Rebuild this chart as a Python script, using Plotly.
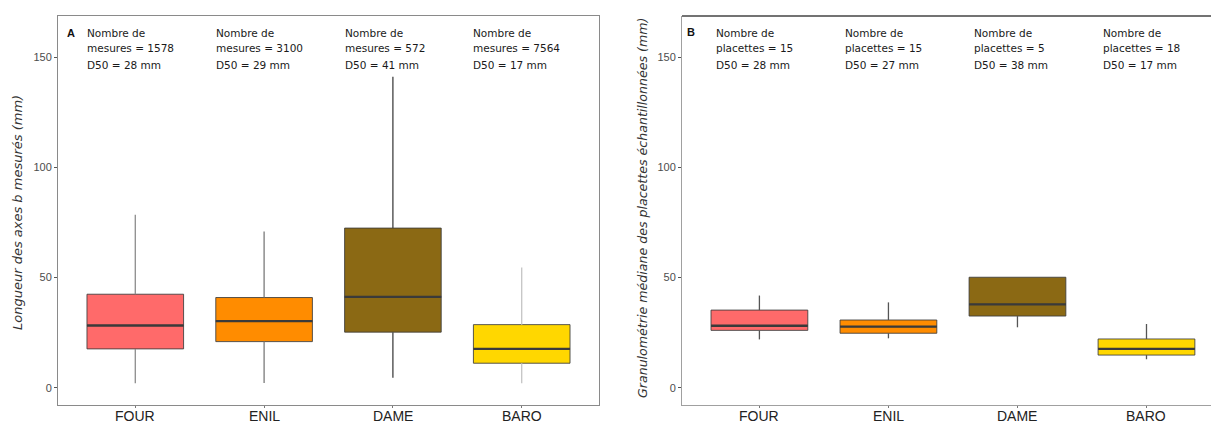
import plotly.graph_objects as go

categories = ["FOUR", "ENIL", "DAME", "BARO"]
fills = ["#FF6A6A", "#FF8C00", "#8B6914", "#FFD700"]

# Panel A: measured b-axis lengths (mm)
a_low = [2.0, 2.1, 4.5, 2.0]
a_q1 = [17.6, 20.9, 25.2, 11.1]
a_med = [28.2, 30.2, 41.2, 17.6]
a_q3 = [42.4, 40.9, 72.4, 28.6]
a_high = [78.5, 70.9, 141.0, 54.5]
a_whisk_col = ["#8c8c8c", "#7a7a7a", "#404040", "#c4c4c4"]
a_n = [1578, 3100, 572, 7564]
a_d50 = [28, 29, 41, 17]

# Panel B: median grain size of sampled plots (mm)
b_low = [21.9, 22.4, 27.4, 12.9]
b_q1 = [26.0, 24.7, 32.5, 14.8]
b_med = [28.1, 27.7, 37.8, 17.6]
b_q3 = [35.2, 30.7, 50.1, 22.1]
b_high = [41.8, 38.7, 50.1, 28.9]
b_whisk_col = ["#555555", "#555555", "#555555", "#555555"]
b_n = [15, 15, 5, 18]
b_d50 = [28, 27, 38, 17]

y_ticks = [0, 50, 100, 150]
W = 0.75
H = 426
FW = 1211
FONT = "DejaVu Sans, Verdana, sans-serif"
AFONT = "Liberation Sans, Arial, sans-serif"

fig = go.Figure()

def add_panel(xa, ya, low, q1, med, q3, high, wcols):
    for i in range(len(categories)):
        fig.add_trace(go.Box(
            x=[i], q1=[q1[i]], median=[med[i]], q3=[q3[i]],
            lowerfence=[q1[i]], upperfence=[q3[i]],
            width=W, fillcolor=fills[i],
            line=dict(color="rgba(60,60,60,0.85)", width=1),
            boxpoints=False, whiskerwidth=0, showlegend=False,
            hoverinfo="skip", xaxis=xa, yaxis=ya))
    for i in range(len(categories)):
        fig.add_trace(go.Scatter(
            x=[i, i, None, i, i], y=[low[i], q1[i], None, q3[i], high[i]],
            mode="lines", line=dict(color=wcols[i], width=1.3),
            showlegend=False, hoverinfo="skip", xaxis=xa, yaxis=ya))
        fig.add_trace(go.Scatter(
            x=[i - W / 2, i + W / 2], y=[med[i], med[i]],
            mode="lines", line=dict(color="#3a3a3a", width=2.3),
            showlegend=False, hoverinfo="skip", xaxis=xa, yaxis=ya))

add_panel("x", "y", a_low, a_q1, a_med, a_q3, a_high, a_whisk_col)
add_panel("x2", "y2", b_low, b_q1, b_med, b_q3, b_high, b_whisk_col)

yr = [-7.85, 168.6]
common_y = dict(range=yr, tickvals=y_ticks, ticks="outside", ticklen=3,
                tickcolor="#555", tickfont=dict(size=11, color="#4d4d4d", family=AFONT),
                showgrid=False, zeroline=False)
common_x = dict(tickvals=list(range(len(categories))), showticklabels=False,
                ticks="outside", ticklen=2, tickcolor="#777",
                showgrid=False, zeroline=False)

fig.update_layout(
    width=FW, height=H, margin=dict(l=0, r=0, t=0, b=0),
    paper_bgcolor="white", plot_bgcolor="white",
    xaxis=dict(domain=[58 / FW, 599 / FW], range=[-0.6, 3.6], showline=True,
               mirror=True, linecolor="#8a8a8a", linewidth=1, anchor="y", **common_x),
    yaxis=dict(domain=[1 - 405 / H, 1 - 16 / H], showline=True, mirror=True,
               linecolor="#8a8a8a", linewidth=1, anchor="x", **common_y),
    xaxis2=dict(domain=[682 / FW, 1.0], range=[-0.6, 3.5], showline=True,
                linecolor="#a0a0a0", linewidth=1, anchor="y2", **common_x),
    yaxis2=dict(domain=[1 - 405 / H, 1 - 16 / H], showline=True,
                linecolor="#a0a0a0", linewidth=1, anchor="x2", **common_y),
)

# dark top border of panel B
fig.add_shape(type="line", xref="x2 domain", yref="y2 domain", x0=0, x1=1, y0=1, y1=1,
              line=dict(color="#444", width=1.5))

def ydat(px):
    # convert a pixel row of the reference to data units (0 at 387.7px, 2.2047 px/unit)
    return (387.7 - px) / 2.2047

ann = []
tf = dict(size=10.5, color="#1a1a1a", family=FONT)
for i in range(len(categories)):
    for xr, dx, second, n, d in (("x", 0.39, "mesures", a_n[i], a_d50[i]),
                                 ("x2", 0.35, "placettes", b_n[i], b_d50[i])):
        yr_ = "y" if xr == "x" else "y2"
        ann.append(dict(x=i - dx, y=ydat(33), xref=xr, yref=yr_, xanchor="left", yanchor="middle",
                        text="Nombre de", showarrow=False, font=tf))
        ann.append(dict(x=i - dx, y=ydat(48), xref=xr, yref=yr_, xanchor="left", yanchor="middle",
                        text=f"{second} = {n}", showarrow=False, font=tf))
        ann.append(dict(x=i - dx, y=ydat(65), xref=xr, yref=yr_, xanchor="left", yanchor="middle",
                        text=f"D50 = {d} mm", showarrow=False, font=tf))
    # category labels
    for xr in ("x", "x2"):
        ann.append(dict(x=i, y=1 - 415.5 / H, xref=xr, yref="paper", xanchor="center", yanchor="middle",
                        text=categories[i], showarrow=False,
                        font=dict(size=14, color="#222", family=AFONT)))

ann.append(dict(x=65 / FW, y=1 - 25 / H, xref="paper", yref="paper", xanchor="left", text="<b>A</b>",
                showarrow=False, font=dict(size=11, color="#111", family=AFONT)))
ann.append(dict(x=685 / FW, y=1 - 24 / H, xref="paper", yref="paper", xanchor="left", text="<b>B</b>",
                showarrow=False, font=dict(size=11, color="#111", family=AFONT)))
ann.append(dict(x=17 / FW, y=1 - 213 / H, xref="paper", yref="paper", xanchor="center", textangle=-90,
                text="<i>Longueur des axes b mesurés (mm)</i>", showarrow=False,
                font=dict(size=13, color="#333", family=FONT)))
ann.append(dict(x=643 / FW, y=1 - 208 / H, xref="paper", yref="paper", xanchor="center", textangle=-90,
                text="<i>Granulométrie médiane des placettes échantillonnées (mm)</i>", showarrow=False,
                font=dict(size=12.6, color="#333", family=FONT)))
fig.update_layout(annotations=ann)

fig.write_html("out.html", config={"displayModeBar": False},
               post_script="document.body.style.margin='0';document.body.style.padding='0';")
